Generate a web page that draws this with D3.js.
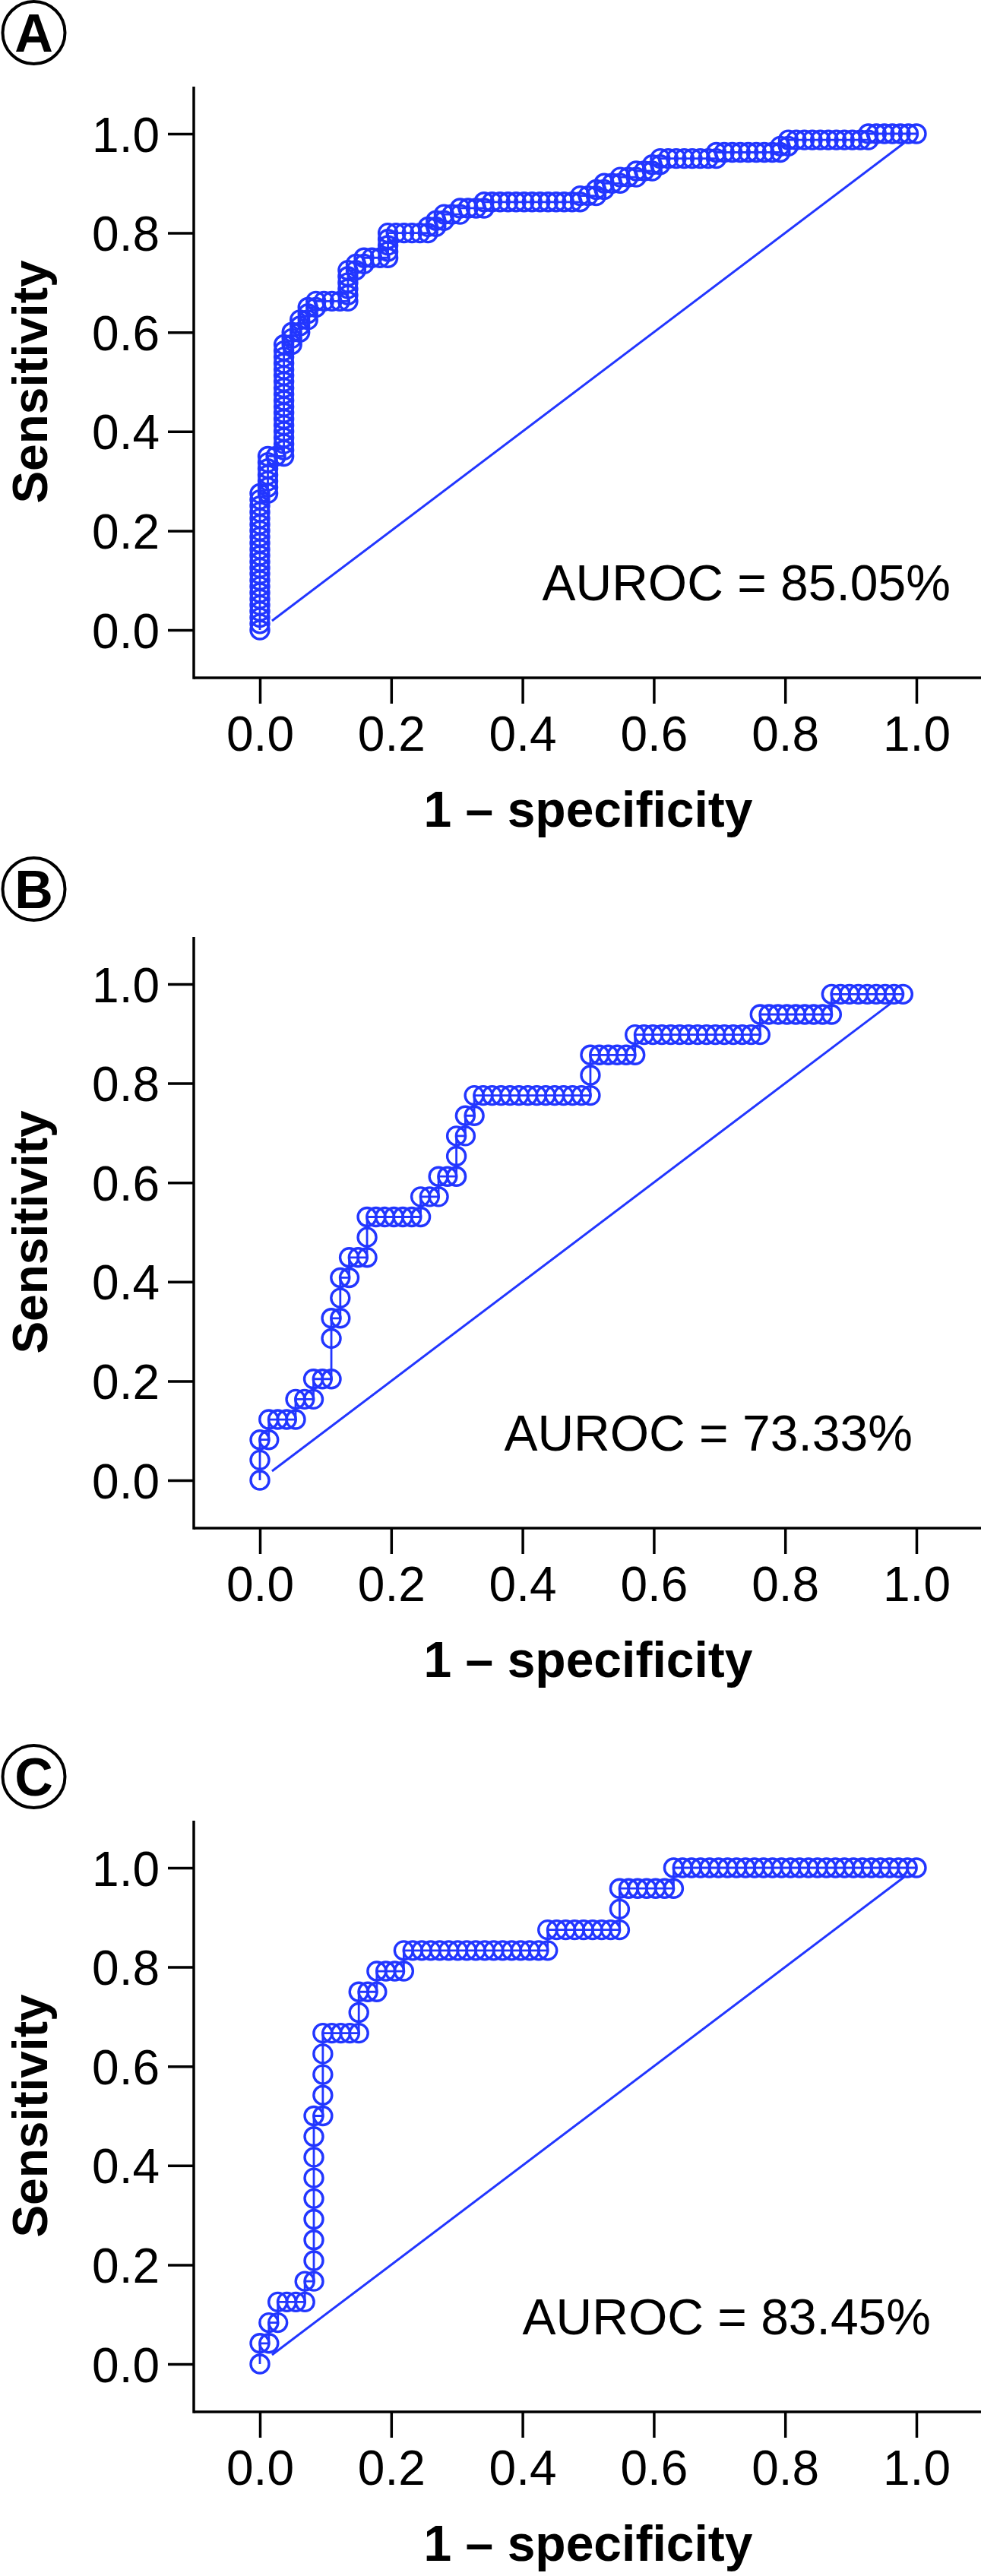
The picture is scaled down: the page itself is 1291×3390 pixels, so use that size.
<!DOCTYPE html>
<html><head><meta charset="utf-8">
<script src="https://cdn.jsdelivr.net/npm/d3@7"></script>
<style>html,body{margin:0;padding:0;background:#fff}svg{display:block}</style>
</head><body>
<svg id="chart" width="1291" height="3390"></svg>
<script>
// ---------- data ----------
const panelLetters = ["A", "B", "C"];
const aurocLabels = ["AUROC = 85.05%", "AUROC = 73.33%", "AUROC = 83.45%"];
const aurocX = [0.43, 0.372, 0.40];          // label anchor on 1 - specificity axis
const xTicks = [0, 0.2, 0.4, 0.6, 0.8, 1.0];
const yTicks = [0, 0.2, 0.4, 0.6, 0.8, 1.0];
const xTitle = "1 \u2013 specificity";
const yTitle = "Sensitivity";

// ROC points as [false-positive count, true-positive count]
const aNeg = 82, aPos = 80;
const aRoc = [[0,0],[0,1],[0,2],[0,3],[0,4],[0,5],[0,6],[0,7],[0,8],[0,9],[0,10],[0,11],[0,12],[0,13],[0,14],[0,15],[0,16],[0,17],[0,18],[0,19],[0,20],[0,21],[0,22],
[1,22],[1,23],[1,24],[1,25],[1,26],[1,27],[1,28],[2,28],
[3,28],[3,29],[3,30],[3,31],[3,32],[3,33],[3,34],[3,35],[3,36],[3,37],[3,38],[3,39],[3,40],[3,41],[3,42],[3,43],[3,44],[3,45],[3,46],
[4,46],[4,47],[4,48],[5,48],[5,49],[5,50],[6,50],[6,51],[6,52],[7,52],[7,53],[8,53],[9,53],[10,53],
[11,53],[11,54],[11,55],[11,56],[11,57],[11,58],[12,58],[12,59],[13,59],[13,60],[14,60],[15,60],
[16,60],[16,61],[16,62],[16,63],[16,64],[17,64],[18,64],[19,64],[20,64],[21,64],[21,65],[22,65],[22,66],
[23,66],[23,67],[24,67],[25,67],[25,68],[26,68],[27,68],[28,68],[28,69],
[29,69],[30,69],[31,69],[32,69],[33,69],[34,69],[35,69],[36,69],[37,69],[38,69],[39,69],
[40,69],[40,70],[41,70],[42,70],[42,71],[43,71],[43,72],[44,72],[45,72],[45,73],[46,73],[47,73],[47,74],
[48,74],[49,74],[49,75],[50,75],[50,76],[51,76],[52,76],[53,76],[54,76],[55,76],[56,76],[57,76],[57,77],
[58,77],[59,77],[60,77],[61,77],[62,77],[63,77],[64,77],[65,77],[65,78],[66,78],[66,79],
[67,79],[68,79],[69,79],[70,79],[71,79],[72,79],[73,79],[74,79],[75,79],[76,79],[76,80],
[77,80],[78,80],[79,80],[80,80],[81,80],[82,80]];

// panel B ends short of (1,1): scale
const bNeg = 73.5, bPos = 24.5;
const bRoc = [[0,0],[0,1],[0,2],[1,2],[1,3],[2,3],[3,3],[4,3],[4,4],[5,4],[6,4],[6,5],[7,5],[8,5],
[8,7],[8,8],[9,8],[9,9],[9,10],[10,10],[10,11],[11,11],[12,11],[12,12],
[12,13],[13,13],[14,13],[15,13],[16,13],[17,13],[18,13],[18,14],[19,14],[20,14],[20,15],[21,15],[22,15],
[22,16],[22,17],[23,17],[23,18],[24,18],
[24,19],[25,19],[26,19],[27,19],[28,19],[29,19],[30,19],[31,19],[32,19],[33,19],[34,19],[35,19],[36,19],[37,19],
[37,20],[37,21],[38,21],[39,21],[40,21],[41,21],[42,21],
[42,22],[43,22],[44,22],[45,22],[46,22],[47,22],[48,22],[49,22],[50,22],[51,22],[52,22],[53,22],[54,22],[55,22],[56,22],
[56,23],[57,23],[58,23],[59,23],[60,23],[61,23],[62,23],[63,23],[64,23],
[64,24],[65,24],[66,24],[67,24],[68,24],[69,24],[70,24],[71,24],[72,24]];

const cNeg = 73, cPos = 24;
const cRoc = [[0,0],[0,1],[1,1],[1,2],[2,2],[2,3],[3,3],[4,3],[5,3],[5,4],[6,4],
[6,5],[6,6],[6,7],[6,8],[6,9],[6,10],[6,11],[6,12],[7,12],[7,13],[7,14],[7,15],
[7,16],[8,16],[9,16],[10,16],[11,16],[11,17],[11,18],[12,18],[13,18],[13,19],[14,19],[15,19],[16,19],
[16,20],[17,20],[18,20],[19,20],[20,20],[21,20],[22,20],[23,20],[24,20],[25,20],[26,20],[27,20],[28,20],[29,20],[30,20],[31,20],[32,20],
[32,21],[33,21],[34,21],[35,21],[36,21],[37,21],[38,21],[39,21],[40,21],[40,22],
[40,23],[41,23],[42,23],[43,23],[44,23],[45,23],[46,23],
[46,24],[47,24],[48,24],[49,24],[50,24],[51,24],[52,24],[53,24],[54,24],[55,24],[56,24],[57,24],[58,24],[59,24],[60,24],
[61,24],[62,24],[63,24],[64,24],[65,24],[66,24],[67,24],[68,24],[69,24],[70,24],[71,24],[72,24],[73,24]];

// ---------- layout ----------
const panels = [
  {roc: aRoc, neg: aNeg, pos: aPos, offset: 0,    labelY: 43},
  {roc: bRoc, neg: bNeg, pos: bPos, offset: 1119, labelY: 1170},
  {roc: cRoc, neg: cNeg, pos: cPos, offset: 2282, labelY: 2338}
];
const BLUE = "#2236ff";
const FONT = "'Liberation Sans', Arial, Helvetica, sans-serif";
const svg = d3.select("#chart");
const x = d3.scaleLinear().domain([0, 1]).range([342, 1206]);
const y = d3.scaleLinear().domain([0, 1]).range([829, 176]);
const axisLeftX = 255, axisBottomY = 892, axisTopY = 114;

panels.forEach((p, i) => {
  // panel letter in circle
  svg.append("circle").attr("cx", 44.5).attr("cy", p.labelY).attr("r", 41)
    .attr("fill", "none").attr("stroke", "#000").attr("stroke-width", 4);
  svg.append("text").attr("x", 44.5).attr("y", p.labelY + 25)
    .attr("text-anchor", "middle").attr("font-family", FONT).attr("font-weight", "bold")
    .attr("font-size", 70).text(panelLetters[i]);

  const g = svg.append("g").attr("transform", `translate(0,${p.offset})`);

  // axis lines (L-shaped frame)
  g.append("line").attr("x1", axisLeftX).attr("x2", axisLeftX).attr("y1", axisTopY).attr("y2", axisBottomY + 1.75)
    .attr("stroke", "#000").attr("stroke-width", 3.5);
  g.append("line").attr("x1", axisLeftX).attr("x2", 1291).attr("y1", axisBottomY).attr("y2", axisBottomY)
    .attr("stroke", "#000").attr("stroke-width", 3.5);

  // x axis ticks
  const gx = g.append("g").attr("transform", `translate(0,${axisBottomY})`)
    .call(d3.axisBottom(x).tickValues(xTicks).tickFormat(d3.format(".1f")).tickSize(34).tickPadding(17));
  gx.select(".domain").remove();
  gx.selectAll(".tick line").attr("stroke", "#000").attr("stroke-width", 3.5);
  gx.selectAll(".tick text").attr("font-family", FONT).attr("font-size", 64).attr("fill", "#000");

  // y axis ticks
  const gy = g.append("g").attr("transform", `translate(${axisLeftX},0)`)
    .call(d3.axisLeft(y).tickValues(yTicks).tickFormat(d3.format(".1f")).tickSize(34).tickPadding(11));
  gy.select(".domain").remove();
  gy.selectAll(".tick line").attr("stroke", "#000").attr("stroke-width", 3.5);
  gy.selectAll(".tick text").attr("font-family", FONT).attr("font-size", 64).attr("fill", "#000")
    .attr("dy", "0.36em");

  // titles
  g.append("text").attr("x", x(0.5)).attr("y", 1088).attr("text-anchor", "middle")
    .attr("font-family", FONT).attr("font-weight", "bold").attr("font-size", 66).text(xTitle);
  g.append("text").attr("transform", `translate(62,${y(0.5)}) rotate(-90)`).attr("text-anchor", "middle")
    .attr("font-family", FONT).attr("font-weight", "bold").attr("font-size", 64).text(yTitle);

  // AUROC label
  g.append("text").attr("x", x(aurocX[i])).attr("y", 790).attr("font-family", FONT)
    .attr("font-size", 66).attr("fill", "#000").text(aurocLabels[i]);

  // data
  const pts = p.roc.map(d => [d[0] / p.neg, d[1] / p.pos]);
  const first = pts[0], last = pts[pts.length - 1];
  // chance diagonal from first to last point (gapped at the markers)
  const x1 = x(first[0]), y1 = y(first[1]), x2 = x(last[0]), y2 = y(last[1]);
  const len = Math.hypot(x2 - x1, y2 - y1), gap = 20;
  const ux = (x2 - x1) / len, uy = (y2 - y1) / len;
  g.append("line").attr("x1", x1 + ux * gap).attr("y1", y1 + uy * gap)
    .attr("x2", x2 - ux * gap).attr("y2", y2 - uy * gap)
    .attr("stroke", BLUE).attr("stroke-width", 3);

  g.append("path").datum(pts)
    .attr("d", d3.line().x(d => x(d[0])).y(d => y(d[1])))
    .attr("fill", "none").attr("stroke", BLUE).attr("stroke-width", 2.8);

  g.append("g").selectAll("circle").data(pts).join("circle")
    .attr("cx", d => x(d[0])).attr("cy", d => y(d[1])).attr("r", 12)
    .attr("fill", "none").attr("stroke", BLUE).attr("stroke-width", 3.4);
});
</script>
</body></html>
